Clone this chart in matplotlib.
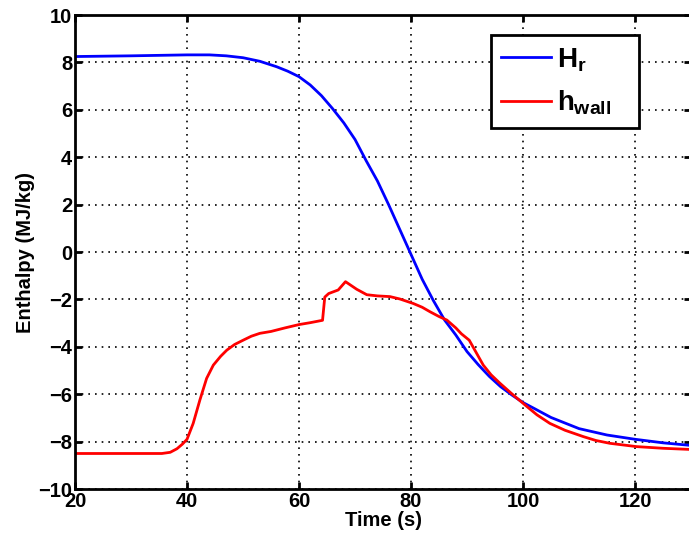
import numpy as np
import matplotlib
matplotlib.use('Agg')
import matplotlib.pyplot as plt

plt.rcParams['font.family'] = ['Liberation Sans', 'DejaVu Sans']
plt.rcParams['font.weight'] = 'bold'
plt.rcParams['mathtext.fontset'] = 'custom'
plt.rcParams['mathtext.rm'] = 'Liberation Sans:bold'
plt.rcParams['mathtext.it'] = 'Liberation Sans:bold'
plt.rcParams['mathtext.bf'] = 'Liberation Sans:bold'

# H_r (blue)
t_hr = [20, 30, 40, 44, 47, 50, 53, 56, 58, 60, 62, 64, 66, 68, 70, 72, 74, 76, 78,
        80, 82, 84, 86, 88, 90, 92, 94, 96, 98, 100, 102, 105, 110, 115, 120, 125, 130]
h_r = [8.25, 8.28, 8.32, 8.32, 8.28, 8.2, 8.05, 7.82, 7.63, 7.4, 7.05, 6.6, 6.05, 5.45,
       4.75, 3.85, 3.0, 2.0, 0.95, -0.1, -1.15, -2.05, -2.87, -3.5, -4.2, -4.75, -5.25,
       -5.68, -6.03, -6.35, -6.6, -6.98, -7.45, -7.72, -7.9, -8.05, -8.16]

# h_wall (red)
t_hw = [20, 35.5, 37, 38.2, 39.2, 40, 41.1, 42.3, 43.5, 44.7, 46, 47.1, 48.5, 50.1, 51.5,
        53, 55, 57.5, 60, 62, 64.2, 64.6, 65.3, 67, 68.3, 70.3, 72.1, 74, 76.25, 78, 80.4,
        82, 83.4, 85, 86.4, 88, 89, 90.4, 92.9, 94.3, 95.9, 98, 100.4, 102.5, 104.8, 107.5,
        110.8, 113, 115.5, 120.3, 125, 130]
h_wall = [-8.5, -8.5, -8.45, -8.3, -8.1, -7.9, -7.23, -6.24, -5.33, -4.77, -4.4, -4.14,
          -3.9, -3.71, -3.55, -3.43, -3.35, -3.2, -3.06, -2.98, -2.88, -1.9, -1.75, -1.6,
          -1.25, -1.57, -1.8, -1.85, -1.88, -1.98, -2.17, -2.33, -2.52, -2.72, -2.87, -3.2,
          -3.45, -3.72, -4.77, -5.18, -5.54, -5.98, -6.46, -6.87, -7.23, -7.52, -7.79, -7.95,
          -8.07, -8.21, -8.28, -8.33]

fig = plt.figure(figsize=(6.89, 5.38), dpi=100)
ax = fig.add_axes([0.1089, 0.091, 0.894, 0.881])

# trailing spaces give the wide right margin of the legend box
ax.plot(t_hr, h_r, color='#0000ff', lw=2, label='$H_r$   ')
ax.plot(t_hw, h_wall, color='#ff0000', lw=2, label='$h_{wall}$   ')

ax.set_xlim(20, 130)
ax.set_ylim(-10, 10)
ax.set_xticks(np.arange(20, 121, 20))
ax.set_yticks(np.arange(-10, 11, 2))
ax.grid(True, color='black', linestyle=(0, (1, 3)), lw=1.2)
ax.tick_params(direction='in', length=5, width=2, top=True, right=True,
               labelsize=14.5, pad=2)
for s in ax.spines.values():
    s.set_linewidth(2)

ax.set_xlabel('Time (s)', fontsize=14.5, fontweight='bold', labelpad=0)
ax.set_ylabel('Enthalpy (MJ/kg)', fontsize=14.5, fontweight='bold', labelpad=2)

leg = ax.legend(loc='upper right', bbox_to_anchor=(0.916, 0.957), fontsize=20,
                fancybox=False, framealpha=1, edgecolor='black',
                handlelength=1.8, handletextpad=0.2, borderpad=0.38,
                labelspacing=0.55, borderaxespad=0)
leg.get_frame().set_linewidth(2)

fig.savefig('out.png', dpi=100)
